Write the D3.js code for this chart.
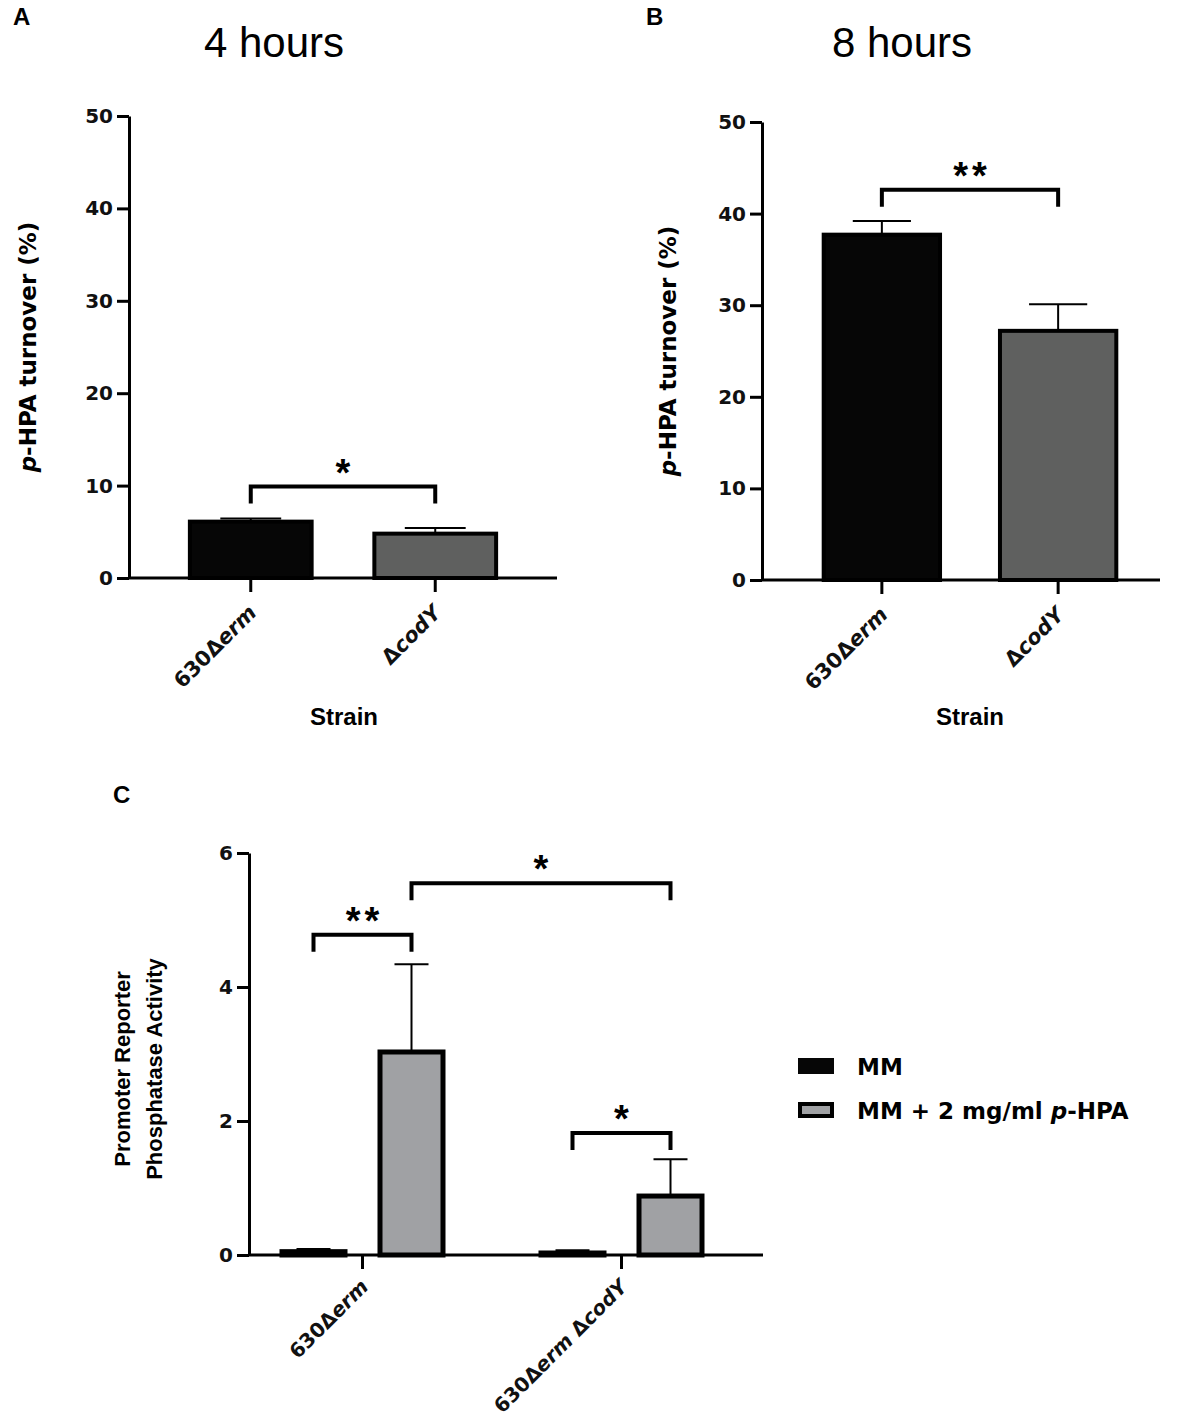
<!DOCTYPE html>
<html>
<head>
<meta charset="utf-8">
<script src="https://cdn.jsdelivr.net/npm/d3@7"></script>
<style>
  body { margin: 0; background: #fff; }
  text { font-family: "Liberation Sans", Arial, sans-serif; }
</style>
</head>
<body>
<div id="chart"></div>
<script>
// panels A and B
const strains = ["630Δerm", "ΔcodY"];
const turnover4h = [6.1, 4.8];
const turnover4hSd = [0.35, 0.6];
const turnover8h = [37.7, 27.2];
const turnover8hSd = [1.5, 2.9];
const turnoverTicks = [0, 10, 20, 30, 40, 50];
const sig4h = [{ from: 0, to: 1, y: 9.9, label: "*" }];
const sig8h = [{ from: 0, to: 1, y: 42.6, label: "**" }];

// panel C
const groups = ["630Δerm", "630Δerm ΔcodY"];
const treatments = ["MM", "MM + 2 mg/ml p-HPA"];
const activityMM = [0.05, 0.03];
const activityMMSd = [0.04, 0.04];
const activityHPA = [3.03, 0.88];
const activityHPASd = [1.31, 0.55];
const activityTicks = [0, 2, 4, 6];
const sigC = [
  { from: [0, 0], to: [0, 1], y: 4.78, label: "**" },
  { from: [0, 1], to: [1, 1], y: 5.55, label: "*" },
  { from: [1, 0], to: [1, 1], y: 1.82, label: "*" }
];

const W = 1181, H = 1424;
const wide = "DejaVu Sans, Verdana, sans-serif";
const svg = d3.select("#chart").append("svg")
  .attr("width", W)
  .attr("height", H);

// italic for gene names after Δ and the "p" in p-HPA
function richText(sel, str) {
  sel.text(null);
  str.split(/(Δ[A-Za-z]+|\bp(?=-HPA))/).forEach(part => {
    if (!part) return;
    if (part[0] === "Δ") {
      sel.append("tspan").text("Δ");
      sel.append("tspan").attr("font-style", "italic").text(part.slice(1));
    } else if (part === "p") {
      sel.append("tspan").attr("font-style", "italic").text("p");
    } else {
      sel.append("tspan").text(part);
    }
  });
}

function styleAxis(g) {
  g.select(".domain").attr("stroke-width", 3);
  g.selectAll(".tick line").attr("stroke-width", 3);
  g.selectAll(".tick text")
    .style("font-family", wide)
    .attr("font-size", 20)
    .attr("font-weight", "bold")
    .attr("fill", "#111");
}

function drawYAxis(y, ticks, x0) {
  const g = svg.append("g")
    .attr("transform", `translate(${x0},0)`)
    .call(d3.axisLeft(y).tickValues(ticks).tickFormat(d3.format("d"))
      .tickSize(12).tickPadding(4).tickSizeOuter(0));
  styleAxis(g);
}

function drawXAxis(x, y0, axisX0, axisX1, size, dy) {
  svg.append("line")
    .attr("x1", axisX0).attr("x2", axisX1)
    .attr("y1", y0).attr("y2", y0)
    .attr("stroke", "#000")
    .attr("stroke-width", 3);
  const g = svg.append("g")
    .attr("transform", `translate(0,${y0})`)
    .call(d3.axisBottom(x).tickSize(14).tickSizeOuter(0));
  g.select(".domain").remove();
  styleAxis(g);
  g.selectAll(".tick text")
    .attr("y", null).attr("dy", null)
    .attr("text-anchor", "end")
    .attr("font-size", size)
    .attr("transform", `translate(7,${dy}) rotate(-45)`)
    .each(function (d) { richText(d3.select(this), d); });
}

function drawBracket(x1, x2, yPix, label) {
  svg.append("path")
    .attr("d", `M${x1},${yPix + 17} V${yPix} H${x2} V${yPix + 17}`)
    .attr("fill", "none")
    .attr("stroke", "#000")
    .attr("stroke-width", 4);
  svg.append("text")
    .attr("x", (x1 + x2) / 2 + (label.length > 1 ? 2 : 0))
    .attr("y", yPix - 1)
    .attr("text-anchor", "middle")
    .attr("font-size", 38)
    .attr("font-weight", "bold")
    .attr("letter-spacing", label.length > 1 ? 4 : 0)
    .text(label);
}

function drawErrorBar(cx, yTop, yBase, capW) {
  svg.append("line")
    .attr("x1", cx).attr("x2", cx)
    .attr("y1", yBase).attr("y2", yTop)
    .attr("stroke", "#000").attr("stroke-width", 2);
  svg.append("line")
    .attr("x1", cx - capW / 2).attr("x2", cx + capW / 2)
    .attr("y1", yTop).attr("y2", yTop)
    .attr("stroke", "#000").attr("stroke-width", 2);
}

function yTitle(x, cy, lines, size, family) {
  const t = svg.append("text")
    .attr("transform", `translate(${x},${cy}) rotate(-90)`)
    .attr("text-anchor", "middle")
    .attr("font-size", size)
    .attr("font-weight", "bold");
  if (family) t.style("font-family", family);
  lines.forEach((line, i) => {
    const ts = t.append("tspan").attr("x", 0).attr("dy", i === 0 ? 0 : 32);
    richText(ts, line);
  });
}

function label(x, y, txt, size, weight, anchor, family) {
  const t = svg.append("text")
    .attr("x", x).attr("y", y)
    .attr("font-size", size)
    .attr("font-weight", weight)
    .attr("text-anchor", anchor || "start")
    .text(txt);
  if (family) t.style("font-family", family);
}

const fillsAB = ["#060606", "#5f605f"];

function strainPanel(opt) {
  const x = d3.scaleBand().domain(strains).range(opt.band)
    .paddingInner(0.34).paddingOuter(opt.outer);
  const y = d3.scaleLinear().domain([0, 50]).range(opt.yRange);

  svg.selectAll(null)
    .data(strains)
    .join("rect")
    .attr("x", d => x(d))
    .attr("width", x.bandwidth())
    .attr("y", (d, i) => y(opt.values[i]))
    .attr("height", (d, i) => y(0) - y(opt.values[i]))
    .attr("fill", (d, i) => fillsAB[i])
    .attr("stroke", "#000")
    .attr("stroke-width", 4);

  strains.forEach((d, i) => {
    drawErrorBar(x(d) + x.bandwidth() / 2, y(opt.values[i] + opt.sd[i]),
      y(opt.values[i]), x.bandwidth() / 2);
  });

  drawYAxis(y, turnoverTicks, opt.axisX[0]);
  drawXAxis(x, y(0), opt.axisX[0], opt.axisX[1], 21, 36);

  opt.sig.forEach(s => {
    drawBracket(x(strains[s.from]) + x.bandwidth() / 2,
      x(strains[s.to]) + x.bandwidth() / 2, y(s.y), s.label);
  });

  yTitle(opt.titleX, (opt.yRange[0] + opt.yRange[1]) / 2, ["p-HPA turnover (%)"], 23, wide);
  label(opt.strainX, 725, "Strain", 24, "bold", "middle");
  label(opt.headX, 57, opt.head, 42, "normal", "middle");
  label(opt.letterX, 25, opt.letter, 24, "bold");
}

strainPanel({
  values: turnover4h, sd: turnover4hSd, sig: sig4h,
  band: [129, 557], outer: 0.33, axisX: [129, 557], yRange: [578, 116],
  titleX: 36, head: "4 hours", headX: 274, letter: "A", letterX: 13, strainX: 344
});

strainPanel({
  values: turnover8h, sd: turnover8hSd, sig: sig8h,
  band: [762, 1178], outer: 0.35, axisX: [762, 1160], yRange: [580, 122],
  titleX: 676, head: "8 hours", headX: 902, letter: "B", letterX: 646, strainX: 970
});

// panel C
const xg = d3.scaleBand().domain(groups).range([233, 751]);
const xt = d3.scalePoint().domain(treatments).range([-49, 49]);
const yC = d3.scaleLinear().domain([0, 6]).range([1255, 853]);
const barW = 63;
const seriesC = [
  { values: activityMM, sd: activityMMSd, fill: "#060606" },
  { values: activityHPA, sd: activityHPASd, fill: "#a0a1a4" }
];
const cx = (gi, ti) => xg(groups[gi]) + xg.bandwidth() / 2 + xt(treatments[ti]);

seriesC.forEach((s, ti) => {
  svg.selectAll(null)
    .data(groups)
    .join("rect")
    .attr("x", (d, gi) => cx(gi, ti) - barW / 2)
    .attr("width", barW)
    .attr("y", (d, gi) => yC(s.values[gi]))
    .attr("height", (d, gi) => yC(0) - yC(s.values[gi]))
    .attr("fill", s.fill)
    .attr("stroke", "#000")
    .attr("stroke-width", 5);
  groups.forEach((d, gi) => {
    drawErrorBar(cx(gi, ti), yC(s.values[gi] + s.sd[gi]), yC(s.values[gi]), 34);
  });
});

drawYAxis(yC, activityTicks, 249);
drawXAxis(xg, yC(0), 249, 763, 20, 33);

sigC.forEach(s => {
  drawBracket(cx(s.from[0], s.from[1]), cx(s.to[0], s.to[1]), yC(s.y), s.label);
});

yTitle(130, 1069, ["Promoter Reporter", "Phosphatase Activity"], 22);
label(113, 803, "C", 24, "bold");

// legend
const legend = svg.append("g").attr("transform", "translate(798,1058)");
treatments.forEach((t, i) => {
  legend.append("rect")
    .attr("x", i === 0 ? 0 : 2)
    .attr("y", i * 44 + (i === 0 ? 0 : 2))
    .attr("width", i === 0 ? 36 : 32)
    .attr("height", i === 0 ? 16 : 12)
    .attr("fill", seriesC[i].fill)
    .attr("stroke", i === 0 ? "none" : "#000")
    .attr("stroke-width", 4);
  const tx = legend.append("text")
    .attr("x", 59)
    .attr("y", i * 44 + 17)
    .attr("font-size", 23)
    .attr("font-weight", "bold")
    .style("font-family", wide);
  richText(tx, t);
});
</script>
</body>
</html>
